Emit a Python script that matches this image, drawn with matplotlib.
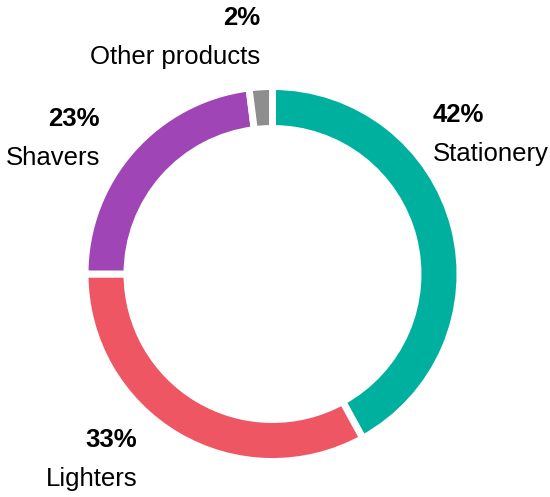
import matplotlib.pyplot as plt

labels = ["Stationery", "Lighters", "Shavers", "Other products"]
shares = [42, 33, 23, 2]
colors = ["#00b09f", "#ef5663", "#a045b5", "#8e8e8e"]

# label anchor positions (pixels, y measured from top) and alignment
label_pos = [(433, 115, "left"), (137, 440, "right"), (100, 119, "right"), (260, 18, "right")]

W, H = 550, 497
fig = plt.figure(figsize=(W / 100, H / 100), dpi=100)
ax = fig.add_axes([0, 0, 1, 1])

ax.pie(shares, colors=colors, startangle=90, counterclock=False,
       center=(272.5, H - 274), radius=187.5,
       wedgeprops=dict(width=42, edgecolor="white", linewidth=5))

ax.set_xlim(0, W)
ax.set_ylim(0, H)
ax.set_aspect("equal")
ax.axis("off")

for lab, val, (x, y, ha) in zip(labels, shares, label_pos):
    ax.text(x, H - y, f"{val}%", ha=ha, va="center", fontsize=18.5,
            fontweight="bold", family="Liberation Sans")
    ax.text(x, H - y - 39, lab, ha=ha, va="center", fontsize=18.5,
            family="Liberation Sans")

fig.savefig("out.png", dpi=100)
